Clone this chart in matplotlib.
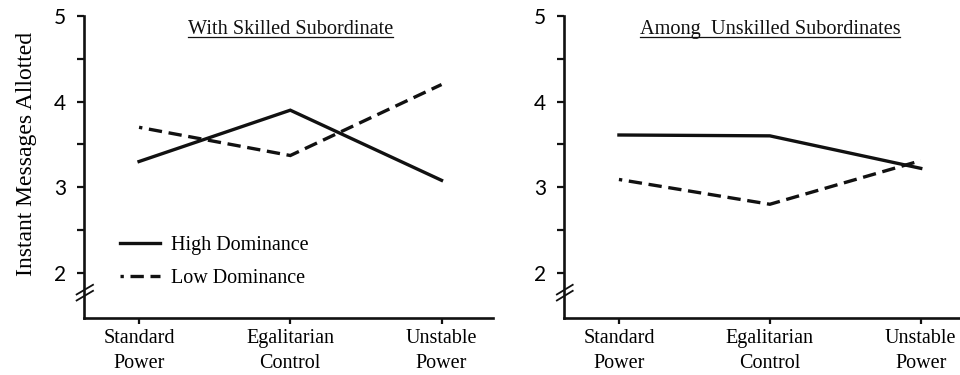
import matplotlib
matplotlib.use("Agg")
import matplotlib.pyplot as plt
from matplotlib.lines import Line2D
from matplotlib.ticker import FixedLocator

# data
conditions = ["Standard\nPower", "Egalitarian\nControl", "Unstable\nPower"]
skilled_high = [3.30, 3.90, 3.08]
skilled_low = [3.70, 3.37, 4.20]
unskilled_high = [3.61, 3.60, 3.22]
unskilled_low = [3.09, 2.80, 3.31]
panel_titles = ["With Skilled Subordinate", "Among  Unskilled Subordinates"]
legend_labels = ["High Dominance", "Low Dominance"]
ylabel = "Instant Messages Allotted"

serif = "Liberation Serif"
sans = "Lato"
ink = "#111111"

fig = plt.figure(figsize=(9.6, 3.75), dpi=100)
ax1 = fig.add_axes([0.0875, 0.152, 0.426, 0.805])
ax2 = fig.add_axes([0.5875, 0.152, 0.4125, 0.805])

panels = [
    (ax1, skilled_high, skilled_low, panel_titles[0], (-0.364, 2.34)),
    (ax2, unskilled_high, unskilled_low, panel_titles[1], (-0.364, 2.26)),
]

x = list(range(len(conditions)))
for ax, high, low, title, xlim in panels:
    ax.plot(x, high, color=ink, lw=2.4, solid_joinstyle="miter",
            label=legend_labels[0])
    ax.plot(x, low, color=ink, lw=2.4, linestyle=(3, (4, 2)),
            dash_joinstyle="miter", label=legend_labels[1])

    ax.set_xlim(*xlim)
    ax.set_ylim(1.47, 5.0)
    for s in ["top", "right"]:
        ax.spines[s].set_visible(False)
    for s in ["left", "bottom"]:
        ax.spines[s].set_linewidth(1.9)
        ax.spines[s].set_color(ink)

    ax.set_yticks([2, 3, 4, 5])
    ax.yaxis.set_minor_locator(FixedLocator([2.5, 3.5, 4.5]))
    ax.tick_params(axis="y", which="both", direction="out", length=5,
                   width=1.6, color=ink, pad=8)
    for lab in ax.get_yticklabels():
        lab.set_fontfamily(sans)
        lab.set_fontsize(15)

    ax.set_xticks(x)
    ax.set_xticklabels(conditions, fontfamily=serif, fontsize=14.5,
                       linespacing=1.4)
    ax.tick_params(axis="x", direction="out", length=4, width=1.6,
                   color=ink, pad=4)

    # axis break marks
    for yb in (0.094, 0.074):
        ax.plot([-0.018, 0.022], [yb - 0.016, yb + 0.016],
                transform=ax.transAxes, color=ink, lw=1.3, clip_on=False)

    t = ax.text(1, 0.942, title, transform=ax.get_xaxis_transform(),
                ha="center", va="baseline", fontfamily=serif, fontsize=14.6,
                color=ink)
    ax._title_text = t

ax1.set_ylabel(ylabel, fontfamily=serif, fontsize=17)
ax1.yaxis.set_label_coords(-0.116, 0.545)

leg = ax1.legend(loc="lower left", bbox_to_anchor=(0.043, 0.04),
                 frameon=False, prop={"family": serif, "size": 14.5},
                 handlelength=2.0, handletextpad=0.55, labelspacing=0.7)

# underline the panel titles
fig.canvas.draw()
inv = fig.transFigure.inverted()
for ax in (ax1, ax2):
    bb = ax._title_text.get_window_extent()
    (x0, y0), (x1_, _) = inv.transform([(bb.x0, bb.y0 + 2), (bb.x1, bb.y0)])
    fig.add_artist(Line2D([x0, x1_], [y0, y0], transform=fig.transFigure,
                          color=ink, lw=0.9))

fig.savefig("out.png", dpi=100)
